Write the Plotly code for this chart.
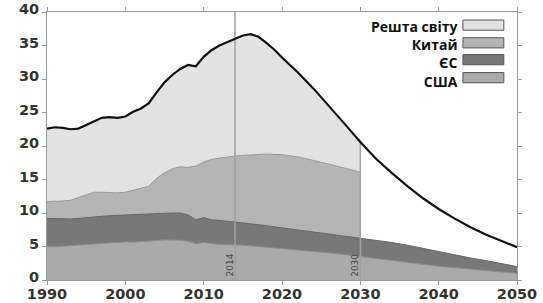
import numpy as np
import plotly.graph_objects as go

# ---- data (Gt CO2 per year) ----
years = [1990, 1991, 1992, 1993, 1994, 1995, 1996, 1997, 1998, 1999,
         2000, 2001, 2002, 2003, 2004, 2005, 2006, 2007, 2008, 2009,
         2010, 2011, 2012, 2013, 2014, 2015, 2016, 2017, 2018, 2019,
         2020, 2022, 2024, 2026, 2028, 2030, 2032, 2034, 2036, 2038,
         2040, 2042, 2044, 2046, 2048, 2050]

usa = [5.0, 4.95, 5.05, 5.15, 5.25, 5.3, 5.45, 5.5, 5.55, 5.6,
       5.7, 5.65, 5.7, 5.8, 5.9, 6.0, 6.0, 5.95, 5.8, 5.4,
       5.6, 5.45, 5.3, 5.3, 5.3, 5.2, 5.1, 5.0, 4.95, 4.85,
       4.75, 4.55, 4.3, 4.05, 3.8, 3.5, 3.2, 2.9, 2.65, 2.35,
       2.05, 1.85, 1.6, 1.4, 1.2, 1.0]

eu = [4.2, 4.2, 4.05, 3.95, 3.95, 4.0, 4.05, 4.05, 4.05, 4.05,
      4.0, 4.1, 4.1, 4.1, 4.1, 4.0, 4.0, 4.05, 3.9, 3.6,
      3.7, 3.55, 3.6, 3.5, 3.3, 3.3, 3.3, 3.25, 3.15, 3.1,
      3.05, 2.95, 2.9, 2.85, 2.8, 2.8, 2.8, 2.7, 2.55, 2.35,
      2.15, 1.95, 1.7, 1.5, 1.2, 1.0]

# China and rest of world are shown up to 2030
china = [2.5, 2.55, 2.7, 2.8, 3.1, 3.3, 3.6, 3.55, 3.4, 3.35,
         3.4, 3.65, 3.8, 4.1, 5.2, 6.0, 6.6, 6.9, 7.1, 8.0,
         8.3, 9.0, 9.3, 9.6, 9.9, 10.1, 10.3, 10.5, 10.7, 10.8,
         10.9, 10.9, 10.7, 10.4, 10.1, 9.8]

rest = [10.9, 11.1, 10.9, 10.6, 10.3, 10.5, 10.5, 11.1, 11.3, 11.2,
        11.3, 11.7, 12.0, 12.4, 12.8, 13.5, 14.0, 14.6, 15.3, 14.9,
        15.7, 16.3, 16.8, 17.1, 17.4, 17.9, 18.0, 17.55, 16.6, 15.65,
        14.5, 12.6, 10.7, 8.7, 6.6, 4.5]

total = [22.6, 22.8, 22.7, 22.5, 22.6, 23.1, 23.6, 24.2, 24.3, 24.2,
         24.4, 25.1, 25.6, 26.4, 28.0, 29.5, 30.6, 31.5, 32.1, 31.9,
         33.3, 34.3, 35.0, 35.5, 35.9, 36.5, 36.7, 36.3, 35.4, 34.4,
         33.2, 31.0, 28.6, 26.0, 23.3, 20.6, 18.1, 16.0, 14.0, 12.2,
         10.6, 9.2, 7.9, 6.8, 5.8, 4.9]

labels = ["Решта світу", "Китай", "ЄС", "США"]
marker_years = [2014, 2030]
x_ticks = [1990, 2000, 2010, 2020, 2030, 2040, 2050]
y_ticks = [0, 5, 10, 15, 20, 25, 30, 35, 40]

# ---- styling ----
col_rest = "#e2e2e2"
col_china = "#b4b4b4"
col_eu = "#787878"
col_usa = "#aaaaaa"

n_h = len(china)
yr = np.array(years)
us_top = np.array(usa)
eu_top = us_top + np.array(eu)
ch_top = eu_top[:n_h] + np.array(china)
rest_top = ch_top + np.array(rest)

fig = go.Figure()

def area(x, y, fill, edge):
    fig.add_trace(go.Scatter(x=x, y=y, mode="lines", fill="tozeroy",
                             fillcolor=fill, line=dict(color=edge, width=1),
                             showlegend=False, hoverinfo="skip"))

area(yr[:n_h], rest_top, col_rest, "#c8c8c8")
area(yr[:n_h], ch_top, col_china, "#999999")
area(yr, eu_top, col_eu, "#666666")
area(yr, us_top, col_usa, "#8c8c8c")

# reference lines
i2030 = years.index(marker_years[1])
fig.add_trace(go.Scatter(x=[marker_years[0], marker_years[0]], y=[0, y_ticks[-1]],
                         mode="lines", line=dict(color="#a0a0a0", width=1.5),
                         showlegend=False, hoverinfo="skip"))
fig.add_trace(go.Scatter(x=[marker_years[1], marker_years[1]], y=[0, rest_top[i2030]],
                         mode="lines", line=dict(color="#a0a0a0", width=1.5),
                         showlegend=False, hoverinfo="skip"))

# total line
fig.add_trace(go.Scatter(x=years, y=total, mode="lines",
                         line=dict(color="#111111", width=2.2),
                         showlegend=False, hoverinfo="skip"))

for my in marker_years:
    fig.add_annotation(x=my, y=0, xref="x", yref="y", text=str(my),
                       textangle=-90, showarrow=False, xanchor="center",
                       yanchor="bottom", xshift=-6, yshift=1,
                       font=dict(family="DejaVu Sans", size=9, color="#444444"))

# custom legend (text left of swatch)
fig.add_annotation(x=0.877, y=0.985, xref="paper", yref="paper",
                   text="<br>".join(labels), align="right",
                   showarrow=False, xanchor="right", yanchor="top", borderpad=0,
                   font=dict(family="Open Sans", size=14, color="#111111", weight="bold"))
row_y = [0.951, 0.885, 0.822, 0.755]
cols = [col_rest, col_china, col_eu, col_usa]
for ry, c in zip(row_y, cols):
    fig.add_shape(type="rect", xref="paper", yref="paper",
                  x0=0.885, x1=0.972, y0=ry - 0.019, y1=ry + 0.019,
                  fillcolor=c, line=dict(color="#555555", width=1))

x_font = dict(family="DejaVu Sans", size=14.5, color="#333333", weight="bold")
y_font = dict(family="DejaVu Sans", size=14.5, color="#333333", weight="bold")
fig.update_xaxes(range=[1990, 2050], tickvals=x_ticks, tickfont=x_font,
                 showgrid=False, zeroline=False, showline=True, linecolor="#9a9a9a",
                 linewidth=1, mirror="ticks", ticks="outside", ticklen=4,
                 tickcolor="#9a9a9a", automargin=False, ticklabelstandoff=-3)
fig.update_yaxes(range=[0, 40], tickvals=y_ticks, tickfont=y_font,
                 showgrid=False, zeroline=False, showline=True, linecolor="#9a9a9a",
                 linewidth=1, mirror="ticks", ticks="outside", ticklen=4,
                 tickcolor="#9a9a9a", automargin=False, ticklabelshift=-3)

fig.update_layout(width=543, height=303,
                  margin=dict(l=47, r=26, t=12, b=23),
                  paper_bgcolor="white", plot_bgcolor="white",
                  showlegend=False)

# remove the default page margin so the figure fills the window exactly
fig.write_html("out.html", config={"displayModeBar": False},
               post_script="document.body.style.margin='0';")
